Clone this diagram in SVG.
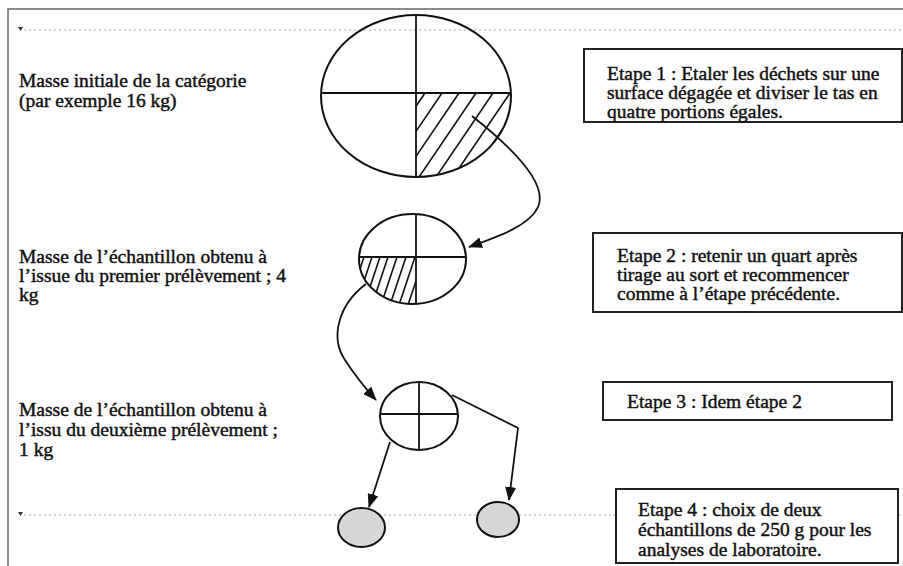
<svg xmlns="http://www.w3.org/2000/svg" width="903" height="566" viewBox="0 0 903 566">
<style>
  .t { font-family: "Liberation Serif", "Times New Roman", serif; font-size: 19.5px; fill: #111; stroke: #111; stroke-width: 0.45; }
  .frame { stroke: #666; stroke-width: 1.5; fill: none; }
  .dots { stroke: #aaa; stroke-width: 1.2; stroke-dasharray: 2 3; fill: none; }
  .shape { fill: none; stroke: #111; stroke-width: 2; }
  .thin { stroke: #111; stroke-width: 1.8; fill: none; }
  .hatch { stroke: #111; stroke-width: 1.6; }
  .box { fill: #fff; stroke: #222; stroke-width: 2; }
  .gray { fill: #d6d6d6; stroke: #111; stroke-width: 2; }
  .conn { fill: none; stroke: #111; stroke-width: 1.8; marker-end: url(#ah); }
</style>
<defs>
  <marker id="ah" viewBox="0 0 14 11" refX="13" refY="5.5" markerWidth="14" markerHeight="11" markerUnits="userSpaceOnUse" orient="auto">
    <path d="M0,0 L14,5.5 L0,11 Z" fill="#111"/>
  </marker>
  <clipPath id="clipBig"><path d="M416,93 L511,93 A95,81 0 0 1 416,177 Z"/></clipPath>
  <clipPath id="clipBigE"><ellipse cx="416" cy="96" rx="95" ry="81"/></clipPath>
  <clipPath id="clipMid"><path d="M416,257 L416,304 L359,304 L359,257 Z"/></clipPath>
  <clipPath id="clipMidE"><ellipse cx="412.5" cy="259" rx="53.5" ry="45"/></clipPath>
</defs>
<rect width="903" height="566" fill="#fff"/>

<!-- page frame and guides -->
<g id="page">
  <path class="frame" d="M8,566 L8,9 L903,9"/>
  <path class="dots" d="M24,30 L903,30"/>
  <path d="M18,27 L23,27 L20.5,31 Z" fill="#333"/>
  <path class="dots" d="M24,515 L903,515"/>
  <path d="M18,512 L23,512 L20.5,516 Z" fill="#333"/>
</g>

<!-- left labels -->
<g id="label1">
  <text class="t" x="19" y="87">Masse initiale de la catégorie</text>
  <text class="t" x="19" y="107">(par exemple 16 kg)</text>
</g>
<g id="label2">
  <text class="t" x="19" y="263">Masse de l’échantillon obtenu à</text>
  <text class="t" x="19" y="282">l’issue du premier prélèvement ; 4</text>
  <text class="t" x="19" y="301">kg</text>
</g>
<g id="label3">
  <text class="t" x="19" y="416">Masse de l’échantillon obtenu à</text>
  <text class="t" x="19" y="436">l’issu du deuxième prélèvement ;</text>
  <text class="t" x="19" y="456">1 kg</text>
</g>

<!-- big ellipse -->
<g id="pile1">
  <ellipse class="shape" cx="416" cy="96" rx="95" ry="81"/>
  <line class="thin" x1="321" y1="93" x2="511" y2="93"/>
  <line class="thin" x1="416" y1="15" x2="416" y2="178"/>
  <g clip-path="url(#clipBigE)">
    <g clip-path="url(#clipBig)">
      <line class="hatch" x1="425" y1="93" x2="364" y2="183"/>
      <line class="hatch" x1="442" y1="93" x2="381" y2="183"/>
      <line class="hatch" x1="459" y1="93" x2="398" y2="183"/>
      <line class="hatch" x1="476" y1="93" x2="415" y2="183"/>
      <line class="hatch" x1="493" y1="93" x2="432" y2="183"/>
      <line class="hatch" x1="510" y1="93" x2="449" y2="183"/>
      <line class="hatch" x1="527" y1="93" x2="466" y2="183"/>
      <line class="hatch" x1="544" y1="93" x2="483" y2="183"/>
    </g>
  </g>
</g>

<!-- middle circle -->
<g id="pile2">
  <ellipse class="shape" cx="412.5" cy="259" rx="53.5" ry="45"/>
  <line class="thin" x1="359" y1="257" x2="466" y2="257"/>
  <line class="thin" x1="416" y1="214" x2="416" y2="304"/>
  <g clip-path="url(#clipMidE)">
    <g clip-path="url(#clipMid)">
      <line class="hatch" x1="364" y1="257" x2="348" y2="305"/>
      <line class="hatch" x1="372" y1="257" x2="356" y2="305"/>
      <line class="hatch" x1="380" y1="257" x2="364" y2="305"/>
      <line class="hatch" x1="388" y1="257" x2="372" y2="305"/>
      <line class="hatch" x1="397" y1="257" x2="381" y2="305"/>
      <line class="hatch" x1="406" y1="257" x2="390" y2="305"/>
      <line class="hatch" x1="415" y1="257" x2="399" y2="305"/>
      <line class="hatch" x1="424" y1="257" x2="408" y2="305"/>
    </g>
  </g>
</g>

<!-- small circle -->
<g id="pile3">
  <ellipse class="shape" cx="419" cy="416" rx="39" ry="34"/>
  <line class="thin" x1="380" y1="414" x2="458" y2="414"/>
  <line class="thin" x1="419" y1="382" x2="419" y2="450"/>
</g>

<!-- final samples -->
<g id="sample1"><ellipse class="gray" cx="361.5" cy="527.5" rx="23.5" ry="19.5"/></g>
<g id="sample2"><ellipse class="gray" cx="498" cy="519.5" rx="21" ry="17.5"/></g>

<!-- step boxes -->
<g id="step1">
  <rect class="box" x="584" y="49" width="318" height="73"/>
  <text class="t" x="607" y="80">Etape 1 : Etaler les déchets sur une</text>
  <text class="t" x="607" y="99">surface dégagée et diviser le tas en</text>
  <text class="t" x="607" y="118">quatre portions égales.</text>
</g>
<g id="step2">
  <rect class="box" x="593" y="233" width="309" height="79"/>
  <text class="t" x="617" y="262">Etape 2 : retenir un quart après</text>
  <text class="t" x="617" y="281">tirage au sort et recommencer</text>
  <text class="t" x="617" y="300">comme à l’étape précédente.</text>
</g>
<g id="step3">
  <rect class="box" x="603" y="382" width="289" height="38"/>
  <text class="t" x="627" y="408">Etape 3 : Idem étape 2</text>
</g>
<g id="step4">
  <rect class="box" x="616" y="489" width="282" height="74"/>
  <text class="t" x="638" y="516">Etape 4 : choix de deux</text>
  <text class="t" x="638" y="536">échantillons de 250 g pour les</text>
  <text class="t" x="638" y="556">analyses de laboratoire.</text>
</g>

<!-- connectors -->
<g id="connectors">
  <path class="conn" d="M472,116 C515,150 548,185 538,207 C530,225 500,236 469,247"/>
  <path class="conn" d="M366,284 C338,305 330,338 345,360 C356,377 366,389 376,400"/>
  <path class="conn" d="M390,442 L369,507"/>
  <path class="conn" d="M452,395 L518,428 L509,500"/>
</g>
</svg>
